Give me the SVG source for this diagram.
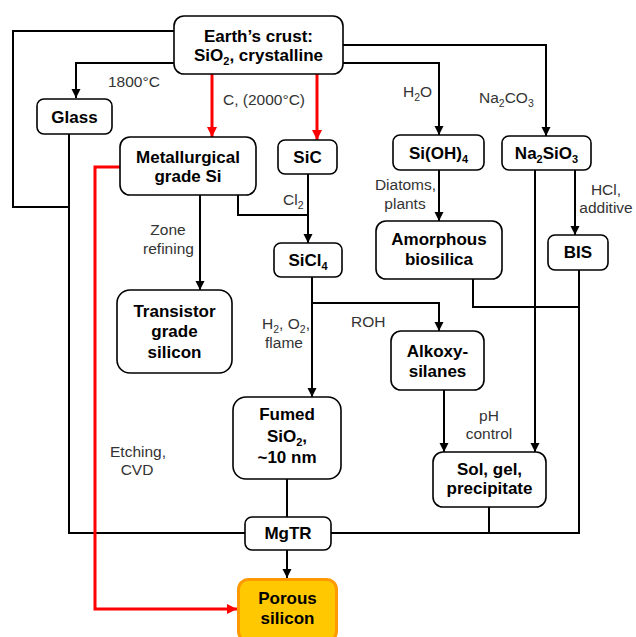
<svg xmlns="http://www.w3.org/2000/svg" width="636" height="637" viewBox="0 0 636 637">
<defs>
<style>
.box{fill:#fff;stroke:#000;stroke-width:1.6}
.nt{font-family:"Liberation Sans",Arial,sans-serif;font-weight:bold;font-size:17px;fill:#000;text-anchor:middle}
.lb{font-family:"Liberation Sans",Arial,sans-serif;font-size:15.5px;fill:#333}
.mid{text-anchor:middle}
.ln{fill:none;stroke:#000;stroke-width:2}
.rd{fill:none;stroke:#f00;stroke-width:3}
</style>
<marker id="ab" viewBox="0 0 10 10" refX="10" refY="5" markerWidth="9" markerHeight="11" markerUnits="userSpaceOnUse" orient="auto"><path d="M0,0 L10,5 L0,10 Z" fill="#000"/></marker>
<marker id="ar" viewBox="0 0 10 10" refX="10" refY="5" markerWidth="10" markerHeight="12" markerUnits="userSpaceOnUse" orient="auto"><path d="M0,0 L10,5 L0,10 Z" fill="#f00"/></marker>
</defs>
<rect width="636" height="637" fill="#fff"/>
<g id="connectors">
<path class="ln" d="M174,31 H13 V207 H69"/>
<path class="ln" d="M174,63 H76 V98" marker-end="url(#ab)"/>
<path class="ln" d="M69,134 V533 H245"/>
<path class="ln" d="M343,45 H546 V136" marker-end="url(#ab)"/>
<path class="ln" d="M343,63 H439 V135" marker-end="url(#ab)"/>
<path class="ln" d="M238,195 V215 H308"/>
<path class="ln" d="M308,174 V243" marker-end="url(#ab)"/>
<path class="ln" d="M200,195 V290" marker-end="url(#ab)"/>
<path class="ln" d="M312,277 V397" marker-end="url(#ab)"/>
<path class="ln" d="M312,303 H439 V331" marker-end="url(#ab)"/>
<path class="ln" d="M439,170 V221" marker-end="url(#ab)"/>
<path class="ln" d="M473,279 V307 H579"/>
<path class="ln" d="M535,170 V452" marker-end="url(#ab)"/>
<path class="ln" d="M575,170 V235" marker-end="url(#ab)"/>
<path class="ln" d="M579,270 V533 H331"/>
<path class="ln" d="M444,390 V452" marker-end="url(#ab)"/>
<path class="ln" d="M489,507 V533"/>
<path class="ln" d="M287,479 V517"/>
<path class="ln" d="M287,550 V578" marker-end="url(#ab)"/>
<path class="rd" d="M212,74 V137" marker-end="url(#ar)"/>
<path class="rd" d="M317,74 V140" marker-end="url(#ar)"/>
<path class="rd" d="M120,167 H95 V609 H237" marker-end="url(#ar)"/>
</g>
<g id="labels">
<text class="lb" x="108" y="87">1800°C</text>
<text class="lb" x="223" y="105">C, (2000°C)</text>
<text class="lb" x="403" y="97">H<tspan font-size="10.5" dy="4">2</tspan><tspan dy="-4">O</tspan></text>
<text class="lb" x="479" y="103">Na<tspan font-size="10.5" dy="4">2</tspan><tspan dy="-4">CO</tspan><tspan font-size="10.5" dy="4">3</tspan></text>
<text class="lb" x="283" y="205">Cl<tspan font-size="10.5" dy="4">2</tspan></text>
<text class="lb mid" x="168" y="235">Zone</text>
<text class="lb mid" x="168.5" y="254">refining</text>
<text class="lb mid" x="405.5" y="190">Diatoms,</text>
<text class="lb mid" x="405" y="209">plants</text>
<text class="lb mid" x="606" y="195">HCl,</text>
<text class="lb mid" x="606" y="213">additive</text>
<text class="lb mid" x="286" y="329">H<tspan font-size="10.5" dy="4">2</tspan><tspan dy="-4">, O</tspan><tspan font-size="10.5" dy="4">2</tspan><tspan dy="-4">,</tspan></text>
<text class="lb mid" x="284" y="348">flame</text>
<text class="lb" x="351" y="327">ROH</text>
<text class="lb mid" x="489" y="421">pH</text>
<text class="lb mid" x="489" y="439">control</text>
<text class="lb mid" x="138" y="457">Etching,</text>
<text class="lb mid" x="137" y="475">CVD</text>
</g>
<g id="earth">
<rect class="box" x="174" y="16" width="169" height="58" rx="10"/>
<text class="nt" x="258.5" y="42">Earth’s crust:</text>
<text class="nt" x="258.5" y="61">SiO<tspan font-size="11" dy="4">2</tspan><tspan dy="-4">, crystalline</tspan></text>
</g>
<g id="glass">
<rect class="box" x="37" y="99" width="75" height="35" rx="7"/>
<text class="nt" x="74.5" y="123">Glass</text>
</g>
<g id="metallurgical">
<rect class="box" x="120" y="137" width="136" height="58" rx="10"/>
<text class="nt" x="188" y="163">Metallurgical</text>
<text class="nt" x="188" y="182">grade Si</text>
</g>
<g id="sic">
<rect class="box" x="278" y="140" width="59" height="34" rx="7"/>
<text class="nt" x="307.5" y="163">SiC</text>
</g>
<g id="sicl4">
<rect class="box" x="274" y="243" width="68" height="34" rx="7"/>
<text class="nt" x="308" y="266">SiCl<tspan font-size="11" dy="4">4</tspan></text>
</g>
<g id="transistor">
<rect class="box" x="117" y="290" width="115" height="83" rx="13"/>
<text class="nt" x="174.5" y="317">Transistor</text>
<text class="nt" x="174.5" y="337">grade</text>
<text class="nt" x="174.5" y="358">silicon</text>
</g>
<g id="sioh4">
<rect class="box" x="393" y="135" width="91" height="35" rx="7"/>
<text class="nt" x="438.5" y="159">Si(OH)<tspan font-size="11" dy="4">4</tspan></text>
</g>
<g id="na2sio3">
<rect class="box" x="502" y="136" width="89" height="34" rx="7"/>
<text class="nt" x="546.5" y="159">Na<tspan font-size="11" dy="4">2</tspan><tspan dy="-4">SiO</tspan><tspan font-size="11" dy="4">3</tspan></text>
</g>
<g id="amorphous">
<rect class="box" x="376" y="221" width="126" height="58" rx="10"/>
<text class="nt" x="439" y="245">Amorphous</text>
<text class="nt" x="439" y="265">biosilica</text>
</g>
<g id="bis">
<rect class="box" x="548" y="235" width="60" height="35" rx="7"/>
<text class="nt" x="578" y="258">BIS</text>
</g>
<g id="alkoxy">
<rect class="box" x="391" y="331" width="93" height="59" rx="10"/>
<text class="nt" x="437.5" y="357">Alkoxy-</text>
<text class="nt" x="437.5" y="377">silanes</text>
</g>
<g id="fumed">
<rect class="box" x="233" y="397" width="108" height="82" rx="13"/>
<text class="nt" x="287" y="420">Fumed</text>
<text class="nt" x="287" y="442">SiO<tspan font-size="11" dy="4">2</tspan><tspan dy="-4">,</tspan></text>
<text class="nt" x="287" y="463">~10 nm</text>
</g>
<g id="sol">
<rect class="box" x="433" y="452" width="113" height="55" rx="10"/>
<text class="nt" x="489.5" y="475">Sol, gel,</text>
<text class="nt" x="489.5" y="494">precipitate</text>
</g>
<g id="mgtr">
<rect class="box" x="245" y="517" width="86" height="33" rx="7"/>
<text class="nt" x="288" y="539">MgTR</text>
</g>
<g id="porous">
<rect x="238.5" y="579.5" width="98" height="62" rx="10" fill="#FFC800" stroke="#FF9900" stroke-width="3"/>
<text class="nt" x="287.5" y="604">Porous</text>
<text class="nt" x="287.5" y="624">silicon</text>
</g>
</svg>
